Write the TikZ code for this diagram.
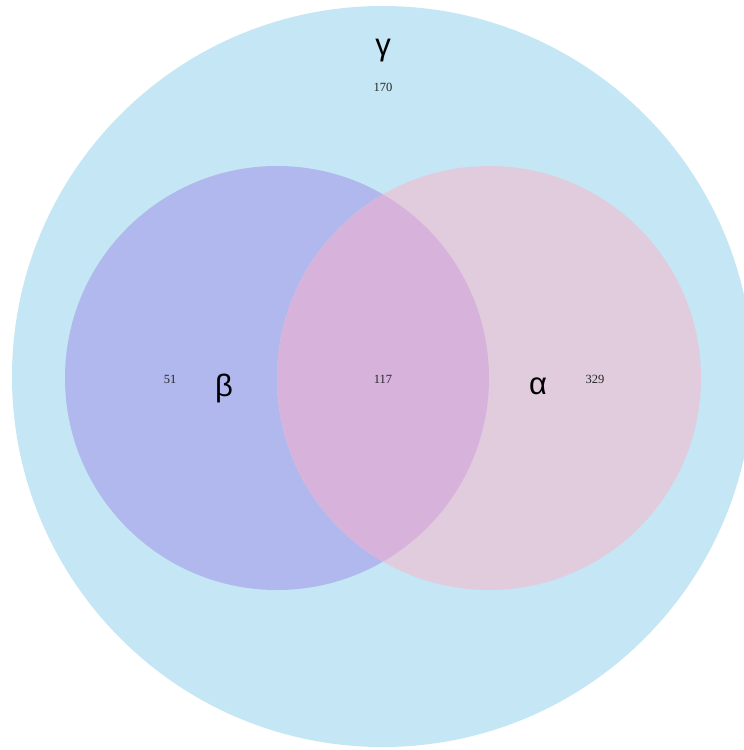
\documentclass[tikz,border=0pt]{standalone}
\usepackage{fontspec}
\setmainfont{Liberation Serif}
\newfontfamily\greekfont{Liberation Sans}
\definecolor{bigc}{HTML}{C5E6F4}
\definecolor{betac}{HTML}{B0B8EE}
\definecolor{alphac}{HTML}{E1CCDE}
\definecolor{overc}{HTML}{D7B3DC}
\begin{document}
\begin{tikzpicture}[x=1pt,y=1pt,
  setc/.style={circle, inner sep=0pt, draw=none},
  glabel/.style={font=\greekfont\fontsize{31}{33}\selectfont, text=black, inner sep=0pt},
  nlabel/.style={font=\fontsize{12.5}{14}\selectfont, text=black!85, inner sep=0pt}]
\useasboundingbox (0,0) rectangle (744,-750);
\clip (0,0) rectangle (744,-750);
\node[setc, fill=bigc, minimum size=741pt] (gamma) at (382.5,-376.5) {};
\node[setc, fill=betac, minimum size=424pt] (beta) at (277,-378) {};
\node[setc, fill=alphac, minimum size=424pt] (alpha) at (489,-378) {};
\begin{scope}
  \clip (277,-378) circle (212pt);
  \fill[overc] (489,-378) circle (212pt);
\end{scope}
\node[glabel] (lg) at (383,-51) {γ};
\node[nlabel] (ng) at (383,-87) {170};
\node[nlabel] (nb) at (170,-379) {51};
\node[glabel] (lb) at (224,-388) {β};
\node[nlabel] (nab) at (383,-379) {117};
\node[glabel] (la) at (538,-386) {α};
\node[nlabel] (na) at (595,-379) {329};
\end{tikzpicture}
\end{document}
